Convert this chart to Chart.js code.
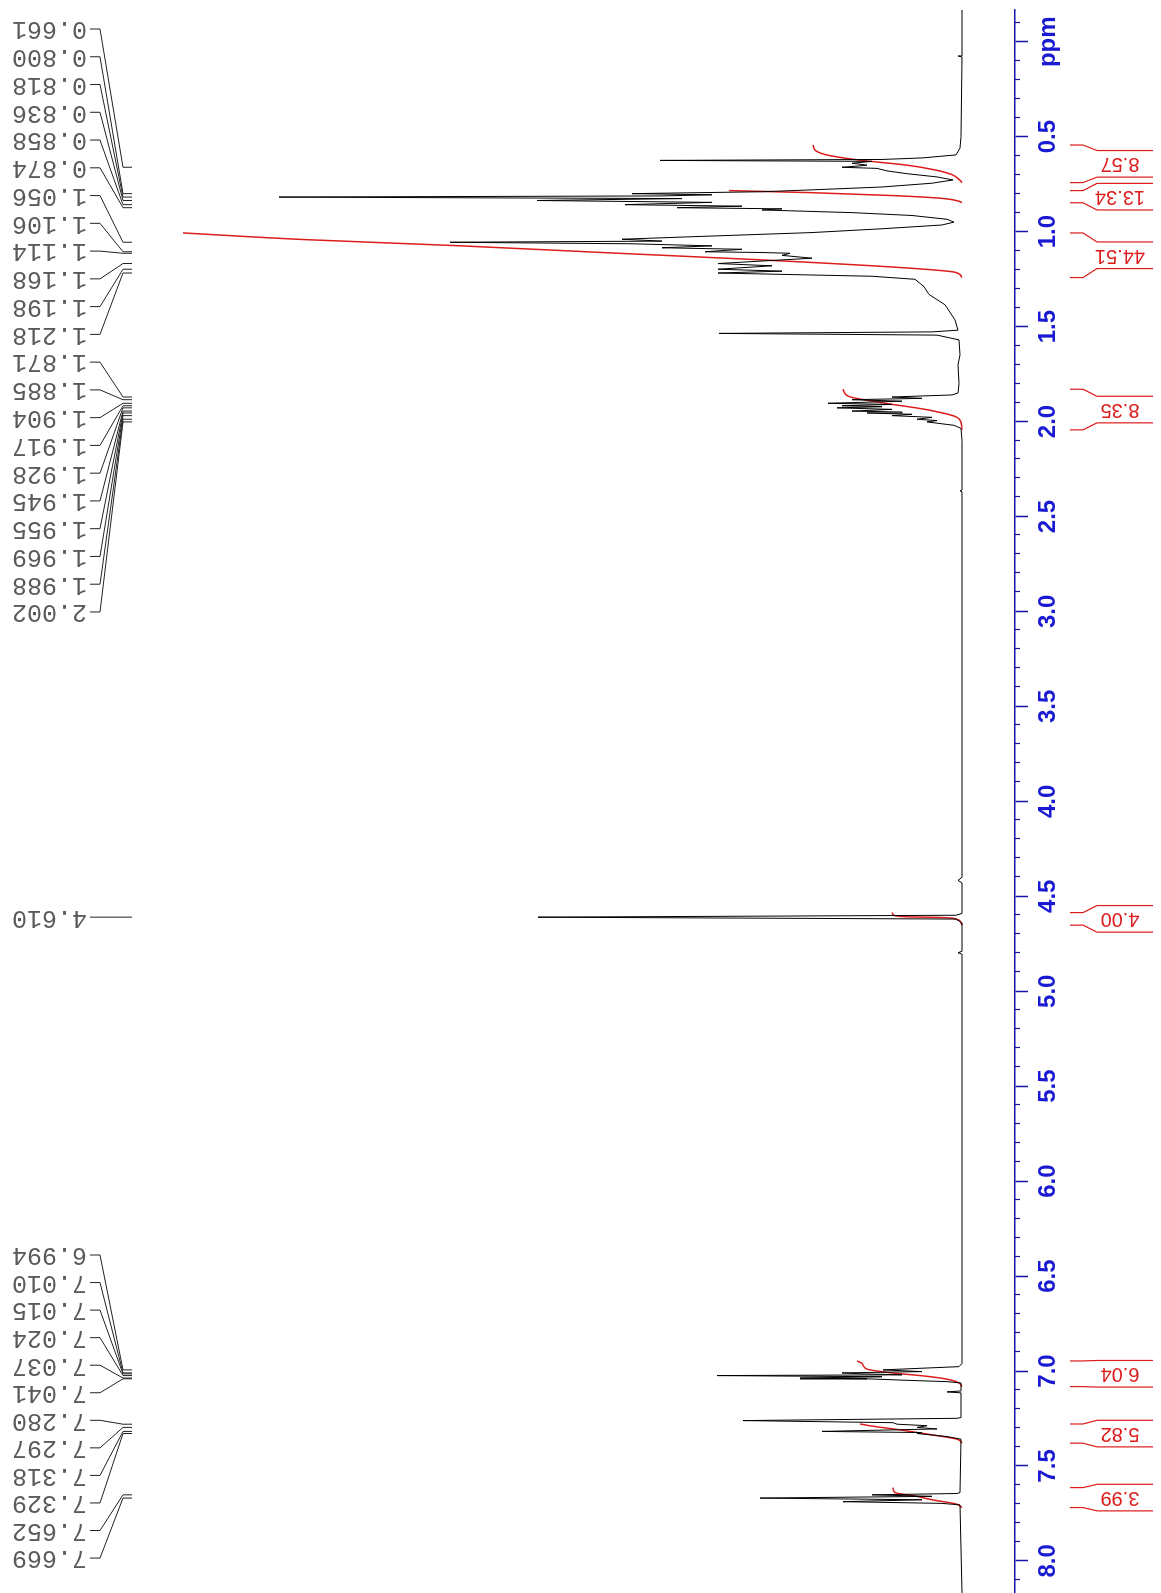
<!DOCTYPE html>
<html>
<head>
<meta charset="utf-8">
<script src="https://cdn.jsdelivr.net/npm/chart.js@4.4.1/dist/chart.umd.min.js"></script>
<style>
  html, body { margin: 0; padding: 0; background: #fff; overflow: hidden; }
  /* the spectrum is drawn the usual way (ppm axis at the bottom) and then turned a quarter turn */
  #wrap { position: absolute; left: 0; top: 0; width: 1593px; height: 1161px;
          transform-origin: 0 0; transform: translate(0px, 1593px) rotate(-90deg); }
</style>
</head>
<body>
<div id="wrap"><canvas id="nmrChart" width="1593" height="1161"></canvas></div>
<script>
// chemical shift (ppm) and intensity (a.u., 0 = baseline)
const shiftPpm = [
  -0.167, 0.070, 0.075, 0.080, 0.500, 0.560, 0.596, 0.612, 0.620, 0.625, 0.630, 0.640, 0.650, 0.655,
  0.661, 0.667, 0.680, 0.695, 0.712, 0.728, 0.745, 0.765, 0.780, 0.790, 0.800, 0.806, 0.812, 0.818,
  0.826, 0.836, 0.846, 0.858, 0.866, 0.874, 0.880, 0.886, 0.900, 0.915, 0.935, 0.950, 0.965, 0.985,
  1.005, 1.025, 1.040, 1.050, 1.056, 1.064, 1.075, 1.085, 1.093, 1.106, 1.110, 1.114, 1.125, 1.140,
  1.155, 1.168, 1.180, 1.198, 1.208, 1.218, 1.235, 1.251, 1.290, 1.331, 1.385, 1.465, 1.519, 1.528,
  1.536, 1.545, 1.570, 1.650, 1.700, 1.800, 1.850, 1.860, 1.871, 1.878, 1.885, 1.893, 1.904, 1.910,
  1.917, 1.922, 1.928, 1.936, 1.945, 1.950, 1.955, 1.962, 1.969, 1.978, 1.988, 1.995, 2.002, 2.020,
  2.036, 2.100, 2.360, 2.365, 2.370, 4.400, 4.416, 4.430, 4.590, 4.600, 4.610, 4.620, 4.640, 4.790,
  4.797, 4.805, 6.960, 6.977, 6.994, 7.003, 7.010, 7.015, 7.020, 7.024, 7.030, 7.037, 7.041, 7.048,
  7.056, 7.063, 7.105, 7.110, 7.115, 7.245, 7.249, 7.261, 7.272, 7.280, 7.288, 7.297, 7.305, 7.318,
  7.324, 7.329, 7.345, 7.359, 7.640, 7.645, 7.652, 7.660, 7.669, 7.678, 7.688, 7.697, 7.705, 8.169
];
const intensity = [
  0, 0, 4, 0, 1, 2, 6, 40, 80, 302, 90, 110, 95, 105,
  120, 85, 75, 55, 25, 9, 30, 80, 150, 200, 330, 250, 300, 683,
  280, 425, 250, 337, 220, 285, 180, 200, 110, 50, 15, 8, 20, 80,
  150, 260, 340, 300, 512, 330, 250, 300, 220, 257, 200, 172, 180, 150,
  200, 244, 190, 244, 180, 244, 90, 47, 38, 33, 17, 7, 4, 30,
  243, 25, 3, 2, 4, 3, 4, 10, 70, 40, 110, 60, 134, 70,
  120, 80, 125, 70, 110, 60, 95, 50, 70, 30, 45, 25, 35, 8,
  1, 0, 0, 2, 0, 0, 4, 0, 0, 6, 424, 6, 0, 0,
  4, 0, 0, 3, 79, 40, 120, 100, 60, 245, 80, 162, 95, 60,
  15, 1, 1, 15, 1, 1, 5, 219, 69, 65, 35, 45, 25, 140,
  40, 45, 15, 1, 2, 5, 90, 30, 202, 40, 119, 20, 2, 0
];

// picked peaks
const peakLabels = [
  0.661, 0.800, 0.818, 0.836, 0.858, 0.874, 1.056, 1.106, 1.114, 1.168, 1.198, 1.218,
  1.871, 1.885, 1.904, 1.917, 1.928, 1.945, 1.955, 1.969, 1.988, 2.002,
  4.610,
  6.994, 7.010, 7.015, 7.024, 7.037, 7.041, 7.280, 7.297, 7.318, 7.329, 7.652, 7.669
];

// integrated regions (ppm) and their values
const integralFrom = [0.544, 0.784, 1.007, 1.830, 4.586, 6.947, 7.279, 7.614];
const integralTo   = [0.742, 0.848, 1.242, 2.044, 4.652, 7.082, 7.380, 7.719];
const integralText = ['8.57', '13.34', '44.51', '8.35', '4.00', '6.04', '5.82', '3.99'];

// running integral traces, [ppm, height]
const integralCurves = [
  [[0.544, 149], [0.575, 146], [0.600, 132], [0.625, 100], [0.650, 55], [0.675, 27], [0.700, 10], [0.730, 2], [0.742, 0]],
  [[0.784, 233], [0.795, 150], [0.810, 70], [0.825, 20], [0.840, 3], [0.848, 0]],
  [[1.007, 779], [1.042, 657], [1.074, 505], [1.112, 352], [1.149, 200], [1.187, 68], [1.214, 7], [1.242, 0]],
  [[1.830, 119], [1.866, 114], [1.903, 78], [1.935, 38], [1.973, 7], [2.005, 1], [2.044, 0]],
  [[4.586, 70], [4.600, 68], [4.608, 55], [4.612, 20], [4.620, 6], [4.640, 1], [4.652, 0]],
  [[6.947, 105], [6.960, 100], [6.990, 95], [7.010, 70], [7.025, 40], [7.040, 18], [7.060, 4], [7.082, 0]],
  [[7.279, 102], [7.290, 90], [7.310, 62], [7.337, 29], [7.359, 5], [7.380, 0]],
  [[7.614, 69], [7.640, 67], [7.660, 45], [7.679, 29], [7.700, 6], [7.719, 0]]
];

const axisBlue = '#1414a8';
const labelBlue = '#1a1ad2';
const intRed = '#dd1c1c';

// where the peak labels sit along the axis (canvas x of first slot, spacing)
const labelGroups = [
  { first: 0, last: 21, start: 1564, step: 27.76 },
  { first: 22, last: 22, start: null, step: 0 },
  { first: 23, last: 34, start: 338, step: 27.55 }
];

const nmrOverlay = {
  id: 'nmrOverlay',
  afterDraw(chart) {
    const ctx = chart.ctx;
    const xs = chart.scales.x;
    const axisY = chart.chartArea.bottom;

    // minor ticks every 0.1 ppm
    ctx.save();
    ctx.strokeStyle = axisBlue;
    ctx.lineWidth = 1.2;
    for (let k = -1; k <= 81; k++) {
      if (k % 5 === 0) continue;
      const x = Math.round(xs.getPixelForValue(k / 10)) + 0.5;
      ctx.beginPath();
      ctx.moveTo(x, axisY);
      ctx.lineTo(x, axisY + 5);
      ctx.stroke();
    }
    ctx.restore();

    // peak labels with their leader lines
    ctx.save();
    ctx.font = '25px "Liberation Mono", monospace';
    ctx.fillStyle = '#5a5a5a';
    ctx.strokeStyle = '#222';
    ctx.lineWidth = 1;
    labelGroups.forEach(g => {
      for (let i = g.first; i <= g.last; i++) {
        const px = xs.getPixelForValue(peakLabels[i]);
        const sx = g.start === null ? px : g.start - (i - g.first) * g.step;
        ctx.beginPath();
        ctx.moveTo(sx, 90);
        ctx.lineTo(sx, 100);
        ctx.lineTo(px, 123);
        ctx.lineTo(px, 132);
        ctx.stroke();
        ctx.save();
        ctx.translate(sx, 87);
        ctx.rotate(-Math.PI / 2);
        ctx.textAlign = 'left';
        ctx.textBaseline = 'middle';
        ctx.fillText(peakLabels[i].toFixed(3), 0, 0);
        ctx.restore();
      }
    });
    ctx.restore();

    // integral brackets and values under the axis
    ctx.save();
    ctx.strokeStyle = intRed;
    ctx.fillStyle = intRed;
    ctx.lineWidth = 1.2;
    ctx.font = '20px "Liberation Sans", Arial, sans-serif';
    integralFrom.forEach((a, i) => {
      const xa = xs.getPixelForValue(a);
      const xb = xs.getPixelForValue(integralTo[i]);
      const c = (xa + xb) / 2;
      const half = 13.3;
      ctx.beginPath();
      ctx.moveTo(xa, 1070); ctx.lineTo(xa, 1083); ctx.lineTo(c + half, 1097); ctx.lineTo(c + half, 1153);
      ctx.moveTo(xb, 1070); ctx.lineTo(xb, 1083); ctx.lineTo(c - half, 1097); ctx.lineTo(c - half, 1153);
      ctx.stroke();
      ctx.save();
      ctx.translate(c, 1120);
      ctx.rotate(-Math.PI / 2);
      ctx.textAlign = 'center';
      ctx.textBaseline = 'middle';
      ctx.fillText(integralText[i], 0, 0);
      ctx.restore();
    });
    ctx.restore();
  }
};

const datasets = [{
  label: 'spectrum',
  data: shiftPpm.map((p, i) => ({ x: p, y: intensity[i] })),
  borderColor: '#000',
  borderWidth: 1,
  pointRadius: 0,
  tension: 0
}];
integralCurves.forEach((curve, i) => {
  datasets.push({
    label: 'integral ' + integralText[i],
    data: curve.map(pt => ({ x: pt[0], y: pt[1] })),
    borderColor: intRed,
    borderWidth: 1.5,
    pointRadius: 0,
    cubicInterpolationMode: 'monotone'
  });
});

const ctx = document.getElementById('nmrChart').getContext('2d');
const nmrChart = new Chart(ctx, {
  type: 'line',
  data: { datasets: datasets },
  options: {
    responsive: false,
    animation: false,
    layout: { padding: { left: 0, right: 10, top: 0, bottom: 0 } },
    plugins: { legend: { display: false }, tooltip: { enabled: false } },
    scales: {
      x: {
        type: 'linear',
        reverse: true,
        min: -0.167,
        max: 8.169,
        position: 'bottom',
        afterFit: scale => { scale.height = 146; },
        border: { display: true, color: axisBlue, width: 1.5 },
        grid: { display: true, drawOnChartArea: false, drawTicks: true, tickLength: 13, tickWidth: 1.5, tickColor: axisBlue },
        ticks: {
          stepSize: 0.5,
          includeBounds: false,
          autoSkip: false,
          maxRotation: 0,
          padding: 6,
          color: labelBlue,
          font: { family: '"Liberation Sans", Arial, sans-serif', size: 24, weight: 'bold' },
          callback: v => (Math.abs(v) < 1e-9 ? 'ppm' : v.toFixed(1))
        }
      },
      y: { type: 'linear', display: false, min: -53, max: 962 }
    }
  },
  plugins: [nmrOverlay]
});
</script>
</body>
</html>
